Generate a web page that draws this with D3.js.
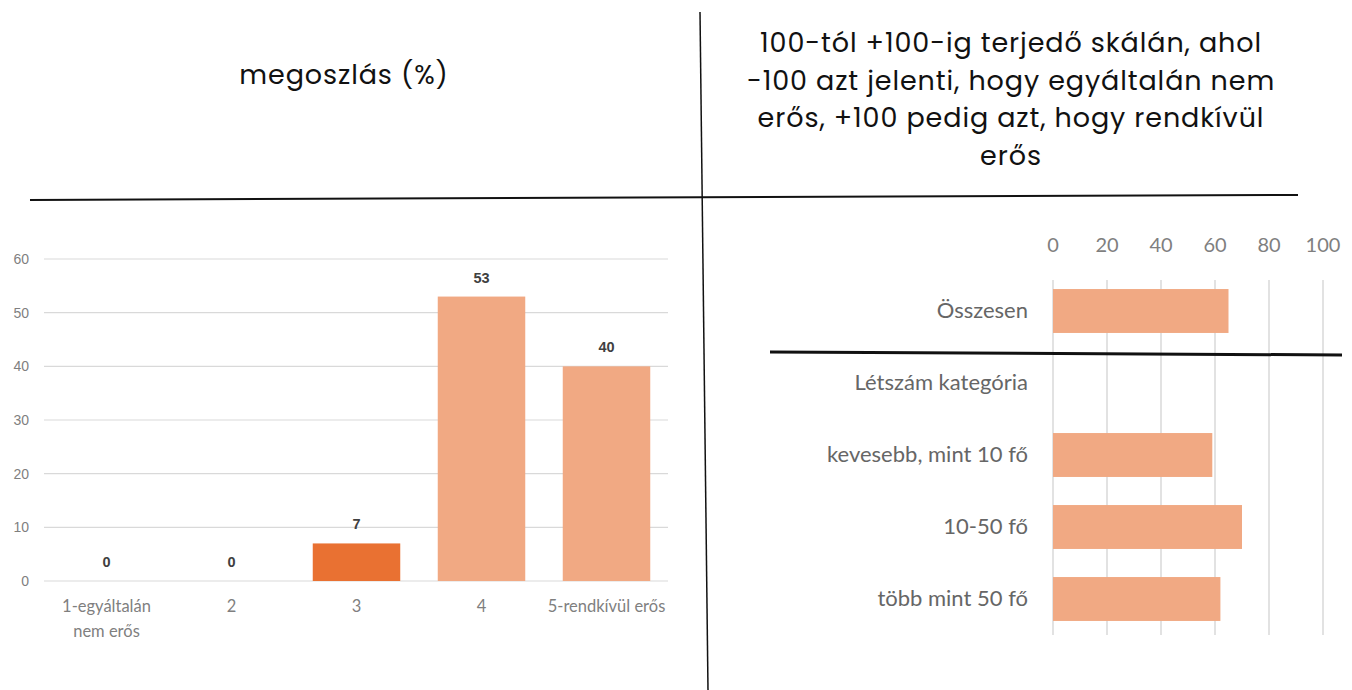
<!DOCTYPE html>
<html><head><meta charset="utf-8">
<script src="https://cdn.jsdelivr.net/npm/d3@7"></script>
<style>body{margin:0;background:#fff}svg{display:block}</style>
</head><body>
<svg id="c" width="1352" height="690"></svg>
<script>
// Left chart data
const leftCats = ["1-egyáltalán\nnem erős", "2", "3", "4", "5-rendkívül erős"];
const leftVals = [0, 0, 7, 53, 40];
const leftTicks = [0, 10, 20, 30, 40, 50, 60];
// Right chart data
const rightCats = ["Összesen", "Létszám kategória", "kevesebb, mint 10 fő", "10-50 fő", "több mint 50 fő"];
const rightVals = [65, null, 59, 70, 62];
const rightTicks = [0, 20, 40, 60, 80, 100];
const titleLeft = ["megoszlás (%)"];
const titleRight = ["100-tól +100-ig terjedő skálán, ahol", "-100 azt jelenti, hogy egyáltalán nem", "erős, +100 pedig azt, hogy rendkívül", "erős"];

const svg = d3.select("#c");

// Titles
const tf = "Poppins, 'Open Sans', 'Noto Sans', sans-serif";
svg.append("text").attr("x", 344).attr("y", 84).attr("text-anchor", "middle")
  .style("font-family", tf).style("font-size", "27px").style("letter-spacing", "0.9px").attr("fill", "#111").text(titleLeft[0]);
svg.append("g").selectAll("text").data(titleRight).join("text")
  .attr("x", 1011).attr("y", (d, i) => 52 + i * 37.5).attr("text-anchor", "middle")
  .style("font-family", tf).style("font-size", "27px").style("letter-spacing", "0.9px").attr("fill", "#111").text(d => d);

// Divider lines
svg.append("line").attr("x1", 700).attr("y1", 12).attr("x2", 708).attr("y2", 690).attr("stroke", "#111").attr("stroke-width", 1.5);
svg.append("line").attr("x1", 30).attr("y1", 200).attr("x2", 1298).attr("y2", 195).attr("stroke", "#111").attr("stroke-width", 2);

// Left chart
const x = d3.scaleBand().domain(leftCats).range([44, 669]).paddingInner(0.3).paddingOuter(0.15);
const y = d3.scaleLinear().domain([0, 60]).range([581, 259]);
const gL = svg.append("g");
gL.append("g").selectAll("line").data(leftTicks).join("line")
  .attr("x1", 44).attr("x2", 668).attr("y1", d => y(d)).attr("y2", d => y(d))
  .attr("stroke", "#d9d9d9").attr("stroke-width", 1.2);
gL.append("g").selectAll("text").data(leftTicks).join("text")
  .attr("x", 29).attr("y", d => y(d) + 5).attr("text-anchor", "end")
  .style("font-family", "'Liberation Sans', Arial, sans-serif").style("font-size", "14px").attr("fill", "#7f7f7f").text(d => d);
gL.append("g").selectAll("rect").data(leftVals).join("rect")
  .attr("x", (d, i) => x(leftCats[i])).attr("width", x.bandwidth())
  .attr("y", d => y(d)).attr("height", d => y(0) - y(d))
  .attr("fill", (d, i) => i === 2 ? "#e97132" : "#f1a983");
gL.append("g").selectAll("text").data(leftVals).join("text")
  .attr("x", (d, i) => x(leftCats[i]) + x.bandwidth() / 2).attr("y", d => y(d) - 14)
  .attr("text-anchor", "middle").style("font-family", "'Liberation Sans', Arial, sans-serif")
  .style("font-size", "14.5px").style("font-weight", "bold").attr("fill", "#404040").text(d => d);
const xl = gL.append("g").selectAll("text").data(leftCats).join("text")
  .attr("x", d => x(d) + x.bandwidth() / 2).attr("y", 612).attr("text-anchor", "middle")
  .style("font-family", "Lato, sans-serif").style("font-size", "16.5px").attr("fill", "#7f7f7f");
xl.selectAll("tspan").data(d => d.split("\n")).join("tspan")
  .attr("x", function () { return d3.select(this.parentNode).attr("x"); })
  .attr("dy", (d, i) => i === 0 ? 0 : 25).text(d => d);

// Right chart
const xr = d3.scaleLinear().domain([0, 100]).range([1053, 1323]);
const yr = d3.scaleBand().domain(rightCats).range([275, 635]).paddingInner(0.39).paddingOuter(0.195);
const gR = svg.append("g");
gR.append("g").selectAll("line").data(rightTicks).join("line")
  .attr("x1", d => xr(d)).attr("x2", d => xr(d)).attr("y1", 280).attr("y2", 635)
  .attr("stroke", "#d9d9d9").attr("stroke-width", 1.5);
gR.append("g").selectAll("text").data(rightTicks).join("text")
  .attr("x", d => xr(d)).attr("y", 252).attr("text-anchor", "middle")
  .style("font-family", "Lato, sans-serif").style("font-size", "20px").attr("fill", "#7f7f7f").text(d => d);
gR.append("g").selectAll("rect").data(rightVals.map((v, i) => ({v, c: rightCats[i]})).filter(d => d.v !== null)).join("rect")
  .attr("x", xr(0)).attr("y", d => yr(d.c)).attr("height", yr.bandwidth())
  .attr("width", d => xr(d.v) - xr(0)).attr("fill", "#f1a983");
gR.append("g").selectAll("text").data(rightCats).join("text")
  .attr("x", 1028).attr("y", d => yr(d) + yr.bandwidth() / 2 + 7).attr("text-anchor", "end")
  .style("font-family", "Lato, sans-serif").style("font-size", "22px").attr("fill", "#666").text(d => d);
svg.append("line").attr("x1", 770).attr("y1", 352).attr("x2", 1342).attr("y2", 355).attr("stroke", "#111").attr("stroke-width", 3);
</script>
</body></html>
